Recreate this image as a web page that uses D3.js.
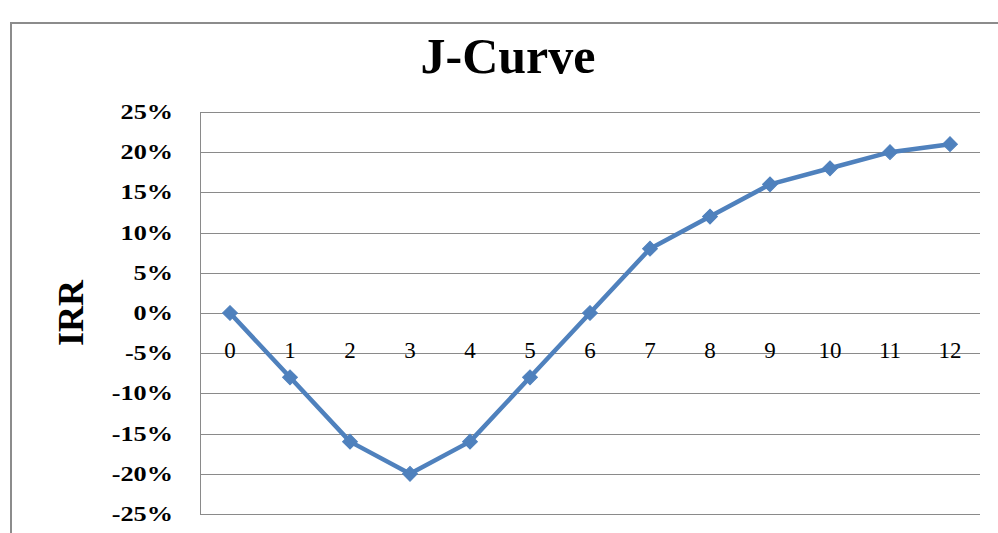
<!DOCTYPE html>
<html><head><meta charset="utf-8">
<script src="https://cdn.jsdelivr.net/npm/d3@7"></script>
<style>body{margin:0;background:#fff}svg{display:block}</style>
</head><body>
<script>
const categories = ["0","1","2","3","4","5","6","7","8","9","10","11","12"];
const irrValues = [0, -0.08, -0.16, -0.20, -0.16, -0.08, 0, 0.08, 0.12, 0.16, 0.18, 0.20, 0.21];
const yTicks = [-0.25,-0.20,-0.15,-0.10,-0.05,0,0.05,0.10,0.15,0.20,0.25];
const title = "J-Curve";
const yTitle = "IRR";

const W = 998, H = 533;
const m = {left:200, right:18, top:112, bottom:19};
const svg = d3.select("body").append("svg").attr("width",W).attr("height",H);
const serif = "'Liberation Serif', 'Times New Roman', serif";

// outer chart border
svg.append("rect").attr("x",11).attr("y",23).attr("width",W).attr("height",H)
  .attr("fill","none").attr("stroke","#8c8c8c").attr("stroke-width",2);

const x = d3.scaleBand().domain(categories).range([m.left, W-m.right]);
const y = d3.scaleLinear().domain([-0.25,0.25]).range([H-m.bottom, m.top]);

// gridlines
svg.append("g").selectAll("line").data(yTicks).join("line")
  .attr("x1",m.left).attr("x2",W-m.right)
  .attr("y1",d=>Math.round(y(d))+0.5).attr("y2",d=>Math.round(y(d))+0.5)
  .attr("stroke","#8a8a8a").attr("stroke-width",1);

// vertical axis line
svg.append("line").attr("x1",m.left+0.5).attr("x2",m.left+0.5)
  .attr("y1",y(0.25)).attr("y2",y(-0.25)+0.5).attr("stroke","#8a8a8a");

// y tick labels
const fmt = d3.format(".0%");
svg.append("g").selectAll("text").data(yTicks).join("text")
  .attr("transform",d=>`translate(173,${y(d)+7}) scale(1.25,1)`)
  .attr("text-anchor","end")
  .attr("font-family",serif)
  .attr("font-weight","bold").attr("font-size",21)
  .text(d=>fmt(d).replace("\u2212","-"));

// category labels (axis crossing at 0)
svg.append("g").selectAll("text").data(categories).join("text")
  .attr("x",d=>x(d)+x.bandwidth()/2).attr("y",y(0)+45)
  .attr("text-anchor","middle")
  .attr("font-family",serif)
  .attr("font-size",23).attr("fill","#000")
  .text(d=>d);

// line
const pts = categories.map((c,i)=>({c, v:irrValues[i]}));
svg.append("path").datum(pts)
  .attr("fill","none").attr("stroke","#4F81BD").attr("stroke-width",4.5)
  .attr("stroke-linejoin","round")
  .attr("d", d3.line().x(d=>x(d.c)+x.bandwidth()/2).y(d=>y(d.v)));

// diamond markers
svg.append("g").selectAll("path").data(pts).join("path")
  .attr("transform",d=>`translate(${x(d.c)+x.bandwidth()/2},${y(d.v)}) rotate(45)`)
  .attr("d", d3.symbol().type(d3.symbolSquare).size(110)())
  .attr("fill","#4F81BD").attr("stroke","#4F81BD").attr("stroke-width",1);

// title
svg.append("text").attr("x",508).attr("y",73).attr("text-anchor","middle")
  .attr("font-family",serif)
  .attr("font-weight","bold").attr("font-size",50).text(title);

// y axis title
svg.append("text").attr("transform",`translate(83,${y(0)}) rotate(-90)`)
  .attr("text-anchor","middle")
  .attr("font-family",serif)
  .attr("font-weight","bold").attr("font-size",36).text(yTitle);
</script>
</body></html>
